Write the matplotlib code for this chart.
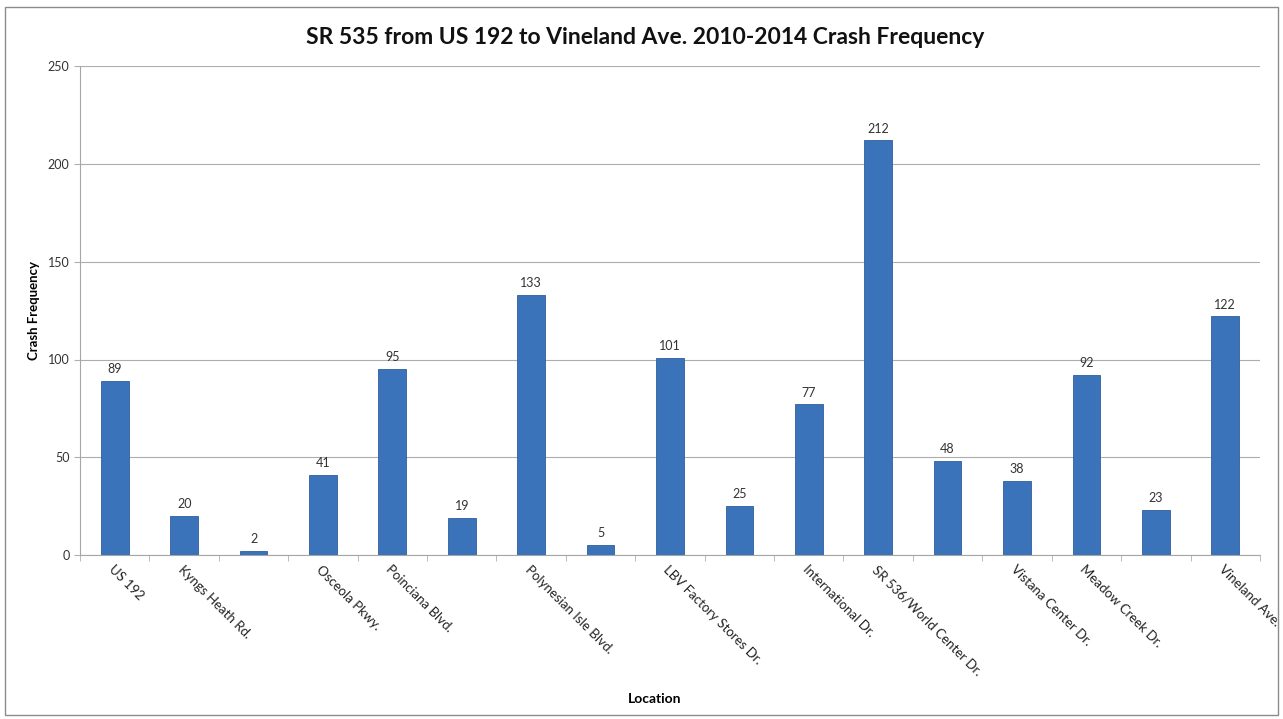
import numpy as np
import matplotlib.pyplot as plt
from matplotlib.patches import Rectangle

plt.rcParams['font.family'] = ['Lato', 'DejaVu Sans']

# data
locations = ['US 192', 'Kyngs Heath Rd.', '', 'Osceola Pkwy.', 'Poinciana Blvd.', '',
             'Polynesian Isle Blvd.', '', 'LBV Factory Stores Dr.', '', 'International Dr.',
             'SR 536/World Center Dr.', '', 'Vistana Center Dr.', 'Meadow Creek Dr.', '',
             'Vineland Ave.']
crashes = [89, 20, 2, 41, 95, 19, 133, 5, 101, 25, 77, 212, 48, 38, 92, 23, 122]

fig = plt.figure(figsize=(12.83, 7.19), dpi=100)
ax = fig.add_axes([0.0624, 0.228, 0.9196, 0.68])

# outer chart frame
fig.patches.append(Rectangle((0.004, 0.006), 0.992, 0.984, transform=fig.transFigure,
                             fill=False, edgecolor='#8c8c8c', linewidth=1.0))

x = np.arange(len(crashes))
ax.bar(x, crashes, width=0.4, color='#3b73ba', edgecolor='#2f5f9e', linewidth=0.6, zorder=3)

for xi, v in zip(x, crashes):
    ax.text(xi, v + 3, str(v), ha='center', va='bottom', fontsize=9, color='#333333')

ax.set_xlim(-0.5, len(crashes) - 0.5)
ax.set_ylim(0, 250)
ax.set_yticks(np.arange(0, 251, 50))
ax.yaxis.grid(True, color='#adadad', linewidth=0.8, zorder=0)

ax.set_xticks(x)
ax.set_xticklabels(locations, rotation=-45, ha='left', va='top', rotation_mode='anchor',
                   fontsize=9.5, color='#222222')
ax.tick_params(axis='x', length=0, pad=6)
ax.set_xticks(np.arange(-0.5, len(crashes), 1), minor=True)
ax.tick_params(axis='x', which='minor', length=4, color='#b0b0b0')
ax.tick_params(axis='y', length=4, color='#b0b0b0', labelsize=9, labelcolor='#333333')

for s in ['top', 'right']:
    ax.spines[s].set_visible(False)
ax.spines['left'].set_color('#a6a6a6')
ax.spines['bottom'].set_color('#a6a6a6')

fig.text(0.503, 0.948, 'SR 535 from US 192 to Vineland Ave. 2010-2014 Crash Frequency',
         ha='center', va='center', fontsize=16.5, fontweight='bold', color='#111111')
ax.set_ylabel('Crash Frequency', fontsize=9.5, fontweight='bold', labelpad=6)
fig.text(0.51, 0.022, 'Location', ha='center', fontsize=10, fontweight='bold')

fig.savefig('out.png', dpi=100)
